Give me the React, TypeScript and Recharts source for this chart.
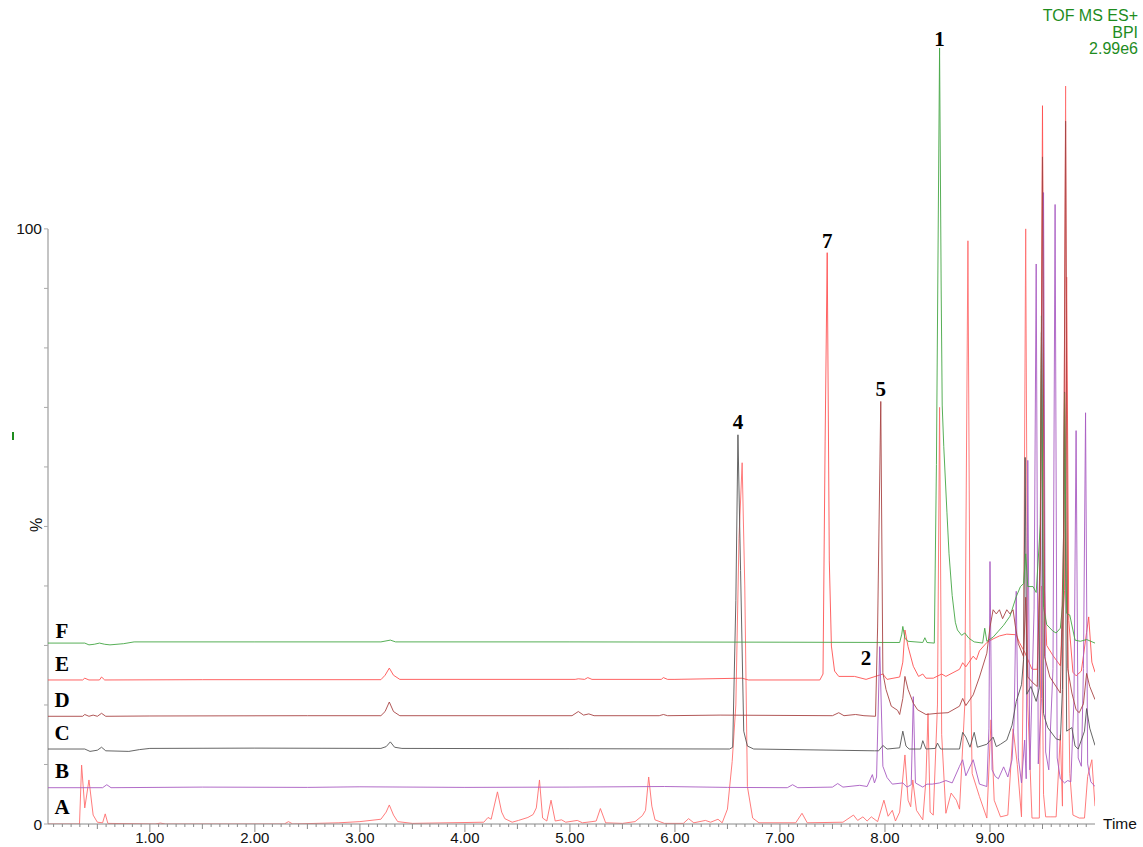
import React from "react";
import { LineChart, Line, XAxis, YAxis, ReferenceLine, ReferenceDot } from "recharts";

// [time (min), intensity % above the trace's own baseline]
const traceA: [number, number][] = [
  [0.03, 0], [0.33, 0], [0.35, 9.9], [0.38, 2.7], [0.42, 7.4], [0.46, 1.5], [0.5, 0.3], [0.55, 0.2],
  [0.575, 1.7], [0.6, 0.1], [1.05, 0], [1.1, 0.15], [1.15, 0], [2.28, 0], [2.32, 0.4], [2.36, 0],
  [2.8, 0.2], [3.0, 0.4], [3.2, 0.8], [3.25, 2.0], [3.28, 3.2], [3.32, 1.5], [3.36, 0.4], [3.5, 0.1],
  [4.18, 0.3], [4.22, 1.1], [4.25, 0.8], [4.31, 5.4], [4.35, 2.0], [4.38, 0.9], [4.45, 0.3], [4.51, 0.6],
  [4.6, 1.1], [4.65, 1.6], [4.68, 2.7], [4.71, 7.4], [4.74, 1.0], [4.78, 0.5], [4.82, 4.0], [4.86, 0.5],
  [4.92, 0.7], [4.96, 0.3], [5.07, 0.6], [5.12, 0.2], [5.21, 0.4], [5.25, 0.5], [5.29, 2.6], [5.34, 0.2],
  [5.5, 0.1], [5.62, 0.4], [5.69, 1.4], [5.72, 2.3], [5.75, 7.9], [5.78, 3.0], [5.81, 0.7], [5.9, 0.1],
  [6.08, 0.1], [6.13, 0.9], [6.18, 0.2], [6.29, 0.6], [6.34, 0.3], [6.41, 0.8], [6.45, 0.2], [6.5, 2.5],
  [6.545, 10.5], [6.58, 20], [6.61, 48], [6.64, 60.7], [6.665, 40], [6.69, 6.3], [6.74, 1.0], [6.8, 0.2],
  [7.15, 0.2], [7.21, 1.8], [7.26, 0.2], [7.6, 0.3], [7.7, 1.5], [7.74, 0.6], [7.79, 1.2], [7.83, 0.5],
  [7.87, 1.2], [7.93, 0.4], [7.99, 4.0], [8.03, 1.3], [8.07, 2.3], [8.1, 0.5], [8.14, 2.0], [8.19, 11.6],
  [8.22, 4.0], [8.245, 2.9], [8.265, 7.4], [8.3, 2.3], [8.36, 0.7], [8.39, 7.4], [8.41, 18.6], [8.43, 2.0],
  [8.46, 1.5], [8.5, 20], [8.52, 70], [8.54, 15], [8.58, 1.8], [8.63, 5.2], [8.68, 4.0], [8.71, 2.5],
  [8.76, 20], [8.79, 98], [8.81, 30], [8.83, 8.5], [8.9, 4.6], [8.97, 1.0], [9.01, 17.5], [9.04, 4.0],
  [9.1, 1.2], [9.17, 1.5], [9.22, 16], [9.26, 10], [9.3, 1.2], [9.32, 30], [9.34, 100], [9.36, 20],
  [9.4, 1.0], [9.47, 1.0], [9.49, 40], [9.51, 5], [9.53, 1.2], [9.58, 1.2], [9.63, 1.2], [9.67, 15],
  [9.69, 3], [9.705, 60], [9.72, 124], [9.735, 40], [9.76, 8.5], [9.79, 1.5], [9.85, 1.0], [9.9, 1.0],
  [9.93, 8], [9.97, 10.8], [10.0, 3],
];

const traceB: [number, number][] = [
  [0.03, 0], [0.55, 0], [0.59, 0.5], [0.63, 0], [1.5, 0.1], [2.5, 0.05], [3.0, 0.15], [4.0, 0.05],
  [5.0, 0.1], [5.9, 0.2], [6.5, 0.05], [7.07, 0], [7.12, 0.5], [7.17, 0], [7.5, 0.1], [7.55, 0.7],
  [7.6, 0.1], [7.76, 0.4], [7.83, 0.2], [7.88, 2.2], [7.9, 0.8], [7.92, 1.8], [7.95, 23.7], [7.98, 3.6],
  [8.02, 1.7], [8.07, 0.6], [8.17, 0.8], [8.21, 0.1], [8.25, 0.5], [8.27, 15.3], [8.29, 0.8], [8.36, 0.1],
  [8.4, 0.6], [8.45, 0.6], [8.52, 0.8], [8.58, 1.2], [8.64, 0.8], [8.71, 3.6], [8.74, 4.7], [8.77, 2.0],
  [8.84, 4.7], [8.9, 0.6], [8.97, 0.2], [8.99, 10], [9.0, 38], [9.02, 3], [9.05, 1.9], [9.08, 1.5],
  [9.13, 3.5], [9.17, 1.8], [9.21, 4.7], [9.23, 11.4], [9.25, 33], [9.27, 5], [9.3, 0.8], [9.33, 8],
  [9.345, 1.5], [9.36, 55], [9.38, 3], [9.42, 30], [9.44, 88], [9.46, 4], [9.49, 15], [9.51, 100],
  [9.53, 6], [9.56, 3], [9.6, 20], [9.62, 98], [9.64, 5], [9.67, 1.5], [9.71, 0.8], [9.74, 1.2],
  [9.77, 1.0], [9.8, 15], [9.82, 60], [9.84, 5], [9.87, 3.6], [9.89, 20], [9.91, 63], [9.93, 4],
  [9.96, 1.0], [10.0, 0.2],
];

const traceC: [number, number][] = [
  [0.03, 0], [0.38, 0], [0.43, -0.4], [0.5, -0.2], [0.54, 0.3], [0.58, -0.3], [0.8, -0.4], [0.9, -0.1],
  [1.0, 0.1], [2.0, 0.15], [3.2, 0.1], [3.25, 0.4], [3.29, 1.2], [3.33, 0.3], [3.4, 0.1], [5.0, 0.05],
  [6.52, 0], [6.55, 0.3], [6.58, 25], [6.6, 52.8], [6.625, 30], [6.655, 3], [6.69, 0.5], [6.75, 0],
  [7.9, -0.3], [7.94, -0.3], [7.98, 0.6], [8.02, 0], [8.14, 0.2], [8.17, 3.0], [8.2, 0.5], [8.23, 0],
  [8.34, 0], [8.36, 1.4], [8.39, 0], [8.48, 0.1], [8.5, 1.0], [8.53, 0], [8.71, 0], [8.74, 2.8],
  [8.77, 2.0], [8.81, 0.3], [8.85, 2.8], [8.88, 0.3], [8.97, 0.8], [9.03, 2.0], [9.06, 0.4], [9.1, 0.8],
  [9.16, 1.5], [9.21, 4.0], [9.25, 8.0], [9.3, 10.8], [9.32, 15], [9.335, 49], [9.35, 9.2], [9.39, 10.5],
  [9.44, 8.0], [9.47, 10.3], [9.49, 70], [9.51, 6], [9.52, 5.3], [9.55, 3.6], [9.63, 1.7], [9.67, 1.5],
  [9.69, 10], [9.71, 60], [9.73, 3], [9.78, 3.6], [9.81, 0.5], [9.84, 0], [9.9, 3], [9.92, 6.8],
  [9.95, 3.5], [10.0, 0.6],
];

const traceD: [number, number][] = [
  [0.03, 0], [0.36, 0], [0.38, 0.3], [0.42, 0], [0.46, 0.2], [0.5, 0], [0.54, 0.5], [0.58, 0],
  [1.0, 0.05], [2.5, 0.1], [3.2, 0.1], [3.24, 0.8], [3.28, 2.4], [3.32, 0.8], [3.38, 0.1], [5.02, 0.1],
  [5.08, 0.8], [5.13, 0.2], [5.18, 0.4], [5.23, 0.1], [5.85, 0.1], [5.89, 0.3], [5.93, 0.1], [6.43, 0.2],
  [7.5, 0.1], [7.56, 0.6], [7.61, 0.1], [7.72, 0.3], [7.8, 0.1], [7.91, 0], [7.93, 15], [7.96, 52.9],
  [7.98, 7.3], [8.01, 4.5], [8.06, 1.7], [8.12, 1.0], [8.14, 0.3], [8.17, 3], [8.19, 6.7], [8.22, 4.5],
  [8.27, 2.2], [8.31, 1.1], [8.39, 0.3], [8.5, 0.5], [8.6, 0.6], [8.71, 1.7], [8.74, 3.0], [8.77, 1.8],
  [8.84, 3.6], [8.9, 6.6], [8.97, 10.6], [9.0, 15], [9.03, 17.9], [9.06, 17.2], [9.09, 17.9], [9.12, 16.4],
  [9.16, 17.9], [9.19, 17.2], [9.22, 17.9], [9.24, 15.3], [9.27, 12.2], [9.32, 10], [9.34, 20], [9.36, 6.6],
  [9.41, 5.6], [9.45, 5], [9.48, 30], [9.5, 94], [9.52, 10], [9.57, 6.6], [9.67, 3.9], [9.7, 30],
  [9.72, 100], [9.74, 8], [9.78, 3.9], [9.82, 1.1], [9.85, 0.6], [9.89, 2.1], [9.92, 7.2], [9.95, 5],
  [10.0, 2.8],
];

const traceE: [number, number][] = [
  [0.03, 0], [0.36, 0], [0.38, 0.3], [0.42, 0], [0.52, 0], [0.54, 0.5], [0.57, 0], [1.5, 0.05],
  [3.2, 0.05], [3.24, 0.8], [3.28, 2.0], [3.32, 0.8], [3.38, 0.1], [5.05, 0.1], [5.08, 0.2], [5.14, 0.1],
  [5.17, 0.4], [5.21, 0.1], [5.87, 0.1], [5.89, 0.4], [5.93, 0.1], [6.0, 0.1], [6.64, 0.3], [6.7, 0],
  [7.38, 0], [7.41, 1], [7.43, 40], [7.45, 71.8], [7.47, 20], [7.49, 5.7], [7.52, 1.5], [7.56, 0.6],
  [7.71, 0.6], [7.82, 0.1], [7.98, 1.0], [8.02, 0.1], [8.14, 0.5], [8.17, 3], [8.19, 8.4], [8.22, 5.6],
  [8.27, 2.3], [8.32, 0.6], [8.36, 1.0], [8.39, 0.3], [8.46, 0.3], [8.54, 1.0], [8.58, 0.6], [8.71, 1.8],
  [8.74, 2.9], [8.77, 2.2], [8.84, 4.0], [8.87, 3.4], [8.9, 4.9], [8.97, 6.3], [9.03, 6.9], [9.09, 7.4],
  [9.16, 7.7], [9.25, 7.6], [9.28, 6.3], [9.33, 4.7], [9.4, 1.8], [9.45, 1.8], [9.48, 20], [9.5, 96.5],
  [9.52, 15], [9.54, 5.8], [9.6, 4.1], [9.67, 2.4], [9.71, 15], [9.73, 67.7], [9.75, 10], [9.79, 1.3],
  [9.82, 0.7], [9.87, 1.5], [9.92, 8], [9.94, 10.6], [9.97, 3], [10.0, 1.3],
];

const traceF: [number, number][] = [
  [0.03, 0], [0.38, 0], [0.42, -0.3], [0.47, -0.2], [0.52, 0], [0.57, -0.2], [0.62, -0.3], [0.75, -0.1],
  [0.85, 0.2], [2.0, 0.2], [3.2, 0.2], [3.29, 0.5], [3.34, 0.2], [5.0, 0.2], [7.0, 0.15], [8.14, 0.1],
  [8.16, 1.5], [8.17, 2.8], [8.19, 0.8], [8.22, 0.3], [8.36, 0.1], [8.38, 0.9], [8.4, 0.1], [8.47, 0],
  [8.49, 30], [8.52, 100], [8.535, 60], [8.545, 40], [8.56, 33], [8.59, 22], [8.61, 15], [8.64, 8],
  [8.67, 3.5], [8.69, 2.2], [8.73, 1.3], [8.76, 1.7], [8.8, 0.8], [8.85, 0.2], [8.93, 0], [8.95, 2.5],
  [8.97, 0.3], [9.03, 1.0], [9.08, 2], [9.13, 3], [9.19, 4.5], [9.25, 7.8], [9.29, 9.5], [9.32, 10],
  [9.34, 15], [9.36, 9.5], [9.41, 9.5], [9.44, 8.5], [9.48, 20], [9.49, 55], [9.51, 6], [9.54, 3.1],
  [9.6, 2], [9.63, 1.7], [9.67, 2.5], [9.7, 8], [9.71, 42], [9.73, 5], [9.76, 4.7], [9.81, 0.5],
  [9.86, 0.3], [9.92, 0.6], [10.0, 0],
];

const sampleNames = ["A", "B", "C", "D", "E", "F"];
const sampleOffsets = [0, 6.1, 12.6, 18.1, 24.2, 30.4];
const sampleColors = ["#ff6e6e", "#a85cc2", "#555555", "#a84545", "#ff5252", "#45a645"];
const sampleTraces = [traceA, traceB, traceC, traceD, traceE, traceF];
const drawOrder = [0, 4, 1, 2, 5, 3];

// where the sample letters and peak numbers sit, in data units
const letterTime = 0.163;
const letterLevels = [2.9, 8.9, 15.3, 20.8, 26.9, 32.4];
const peakNames = ["1", "7", "5", "4", "2"];
const peakTimes = [8.52, 7.45, 7.96, 6.6, 7.82];
const peakLevels = [131.9, 98.0, 73.1, 67.6, 27.9];

const yTicks = [0, 10, 20, 30, 40, 50, 60, 70, 80, 90, 100];
const yLabelled = [0, 100];
const majorTimes = [1, 2, 3, 4, 5, 6, 7, 8, 9];
const tickStep = 1 / 12;
const timeTicks = Array.from({ length: 119 }, (_, i) => (i + 1) * tickStep);

const SANS = "'Liberation Sans', Arial, sans-serif";
const SERIF = "'Liberation Serif', 'Times New Roman', serif";

const TimeTick = (props: any) => {
  const { x, y, payload } = props;
  const k = Math.round(payload.value * 12);
  const isMajor = k % 12 === 0 && majorTimes.includes(k / 12);
  const isHalf = k % 6 === 0;
  const len = isMajor ? 8 : isHalf ? 5 : 3;
  return (
    <g>
      <line x1={x} x2={x} y1={y} y2={y + len} stroke="#8a8a8a" strokeWidth={1} />
      {isMajor && (
        <text x={x} y={y + 19} textAnchor="middle" fontSize={15} fontFamily={SANS} fill="#111">
          {(k / 12).toFixed(2)}
        </text>
      )}
    </g>
  );
};

const PercentTick = (props: any) => {
  const { x, y, payload } = props;
  return (
    <g>
      <line x1={x - 4} x2={x} y1={y} y2={y} stroke="#aaa" strokeWidth={1} />
      {yLabelled.includes(payload.value) && (
        <text x={x - 6} y={y} textAnchor="end" dominantBaseline="central" fontSize={15.5} fontFamily={SANS} fill="#111">
          {payload.value}
        </text>
      )}
    </g>
  );
};

const BoldLabel = (text: string) => (p: any) => (
  <text
    x={p.cx}
    y={p.cy}
    textAnchor="middle"
    dominantBaseline="central"
    fontSize={21}
    fontWeight="bold"
    fontFamily={SERIF}
    fill="#000"
  >
    {text}
  </text>
);

export default function App() {
  const series = sampleTraces.map((tr, i) =>
    tr.map(([t, v]) => ({ t, v: v + sampleOffsets[i] }))
  );

  return (
    <div style={{ position: "absolute", left: 0, top: 0, width: 1143, height: 847, background: "#fff" }}>
      <LineChart width={1143} height={847} margin={{ top: 20, right: 48, bottom: 0, left: 0 }}>
        <XAxis
          dataKey="t"
          type="number"
          domain={[0.03, 10]}
          ticks={timeTicks}
          interval={0}
          tick={<TimeTick />}
          tickSize={0}
          tickMargin={0}
          tickLine={false}
          axisLine={{ stroke: "#8a8a8a", strokeWidth: 1 }}
          height={23}
          allowDataOverflow
        />
        <YAxis
          type="number"
          domain={[0, 135.1]}
          ticks={yTicks}
          interval={0}
          width={48}
          axisLine={false}
          tickSize={0}
          tickMargin={0}
          tickLine={false}
          tick={<PercentTick />}
          allowDataOverflow
        />
        <ReferenceLine
          segment={[
            { x: 0.03, y: 0 },
            { x: 0.03, y: 100 },
          ]}
          stroke="#c4c4c4"
          strokeWidth={2}
        />
        {drawOrder.map((i) => (
          <Line
            key={sampleNames[i]}
            data={series[i]}
            dataKey="v"
            type="linear"
            stroke={sampleColors[i]}
            strokeWidth={1}
            strokeOpacity={0.9}
            dot={false}
            activeDot={false}
            isAnimationActive={false}
          />
        ))}
        {sampleNames.map((n, i) => (
          <ReferenceDot
            key={"lab" + n}
            x={letterTime}
            y={letterLevels[i]}
            r={0}
            shape={BoldLabel(n)}
          />
        ))}
        {peakNames.map((n, i) => (
          <ReferenceDot
            key={"pk" + n}
            x={peakTimes[i]}
            y={peakLevels[i]}
            r={0}
            shape={BoldLabel(n)}
          />
        ))}
      </LineChart>

      <div
        style={{
          position: "absolute",
          right: 5,
          top: 8,
          textAlign: "right",
          color: "#1e8c1e",
          fontFamily: SANS,
          fontSize: 16,
          lineHeight: "16.7px",
        }}
      >
        <div>TOF MS ES+</div>
        <div>BPI</div>
        <div>2.99e6</div>
      </div>
      <div style={{ position: "absolute", left: 12, top: 432, width: 1.5, height: 8, background: "#1e8c1e" }} />
      <div
        style={{
          position: "absolute",
          left: 30,
          top: 516,
          fontFamily: SANS,
          fontSize: 16,
          color: "#111",
          transform: "rotate(-90deg)",
        }}
      >
        %
      </div>
      <div
        style={{
          position: "absolute",
          left: 1103,
          top: 815,
          fontFamily: SANS,
          fontSize: 15.5,
          color: "#111",
        }}
      >
        Time
      </div>
    </div>
  );
}
